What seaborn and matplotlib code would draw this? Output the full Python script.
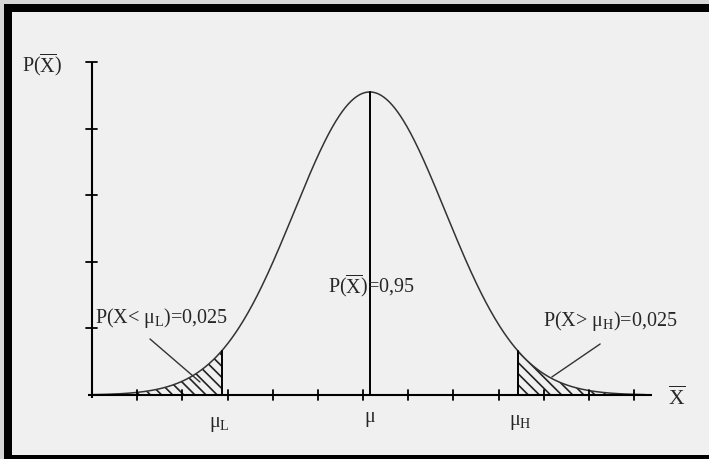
import numpy as np
import pandas as pd
import matplotlib
matplotlib.use("Agg")
import matplotlib.pyplot as plt
from matplotlib.patches import Rectangle
import seaborn as sns

# Normal sampling distribution of the mean (axis units = tick steps)
MU = 6.15          # centre of the curve
SIGMA = 1.67       # standard error
PEAK = 4.55        # drawn height of the density at the centre
Z_CRIT = 1.96      # two-sided 95% critical value
X_START, X_END = 0.0, 12.25

x_ticks = list(range(1, 13))
y_ticks = list(range(1, 6))

label_centre = r"P($\overline{\rm X}$)=0,95"
label_low = r"P(X< $\mu_{\rm L}$)=0,025"
label_high = r"P(X> $\mu_{\rm H}$)=0,025"
label_yaxis = r"P($\overline{\rm X}$)"
label_xaxis = r"$\overline{\rm X}$"

sns.set_theme(style="white")
plt.rcParams["font.family"] = ["Liberation Serif", "DejaVu Serif"]
plt.rcParams["mathtext.fontset"] = "custom"
plt.rcParams["mathtext.rm"] = "Liberation Serif"
plt.rcParams["mathtext.it"] = "Liberation Serif"
plt.rcParams["mathtext.bf"] = "Liberation Serif:bold"
plt.rcParams["hatch.linewidth"] = 1.2

BG = "#f0f0f0"
fig = plt.figure(figsize=(7.09, 4.59), dpi=100, facecolor=BG)
ax = fig.add_axes([0, 0, 1, 1])
ax.set_facecolor(BG)
ax.set_xlim(-2.037, 13.66)
ax.set_ylim(-0.961, 5.931)
ax.axis("off")

xs = np.linspace(X_START, X_END, 600)
density = PEAK * np.exp(-0.5 * ((xs - MU) / SIGMA) ** 2)
curve = pd.DataFrame({"x": xs, "p": density})

lo = MU - Z_CRIT * SIGMA
hi = MU + Z_CRIT * SIGMA
p_lo = PEAK * np.exp(-0.5 * Z_CRIT ** 2)

# hatched tails
tail_l = xs <= lo
tail_r = xs >= hi
ax.fill_between(xs[tail_l], 0, density[tail_l], facecolor="none",
                edgecolor="#222222", hatch="\\\\\\", linewidth=0)
ax.fill_between(xs[tail_r], 0, density[tail_r], facecolor="none",
                edgecolor="#222222", hatch="\\\\\\", linewidth=0)

sns.lineplot(data=curve, x="x", y="p", ax=ax, color="#333333", lw=1.1,
             legend=False)

# axes with cross-shaped ticks
ax.plot([-0.09, 12.4], [0, 0], color="black", lw=1.5, solid_capstyle="butt")
ax.plot([0, 0], [-0.05, 5.0], color="black", lw=1.5, solid_capstyle="butt")
for t in x_ticks:
    ax.plot([t, t], [-0.08, 0.08], color="black", lw=1.3)
for t in y_ticks:
    ax.plot([-0.13, 0.11], [t, t], color="black", lw=1.3)

# critical values and mean
ax.plot([lo, lo], [0, p_lo], color="black", lw=1.4)
ax.plot([hi, hi], [0, p_lo], color="black", lw=1.4)
ax.plot([MU, MU], [0, PEAK], color="black", lw=1.4)

# leader lines
ax.plot([1.284, 2.39], [0.841, 0.195], color="#333333", lw=1.0)
ax.plot([11.25, 10.18], [0.766, 0.27], color="#333333", lw=1.0)

fs = 14.5
ax.text(5.22, 1.53, label_centre, fontsize=fs, ha="left", va="baseline")
ax.text(0.07, 1.08, label_low, fontsize=fs, ha="left", va="baseline")
ax.text(9.98, 1.04, label_high, fontsize=fs, ha="left", va="baseline")
ax.text(-1.55, 4.85, label_yaxis, fontsize=fs, ha="left", va="baseline")
ax.text(12.75, -0.15, label_xaxis, fontsize=fs + 1, ha="left", va="baseline")
ax.text(lo - 0.28, -0.48, r"$\mu_{\rm L}$", fontsize=fs, ha="left", va="baseline")
ax.text(MU, -0.40, r"$\mu$", fontsize=fs, ha="center", va="baseline")
ax.text(hi - 0.2, -0.45, r"$\mu_{\rm H}$", fontsize=fs, ha="left", va="baseline")

# picture frame
W, H = 709, 459
def band(x0, y0, x1, y1, color):
    fig.add_artist(Rectangle((x0 / W, 1 - y1 / H), (x1 - x0) / W, (y1 - y0) / H,
                             transform=fig.transFigure, facecolor=color,
                             edgecolor="none", zorder=10))

band(0, 0, W, 4, "#d6d6d6")
band(0, 0, 4, H, "#d6d6d6")
band(4, 4, W, 12, "black")
band(4, 4, 12, H, "black")
band(4, 455, W, H, "black")

fig.savefig("out.png", dpi=100, facecolor=BG)
